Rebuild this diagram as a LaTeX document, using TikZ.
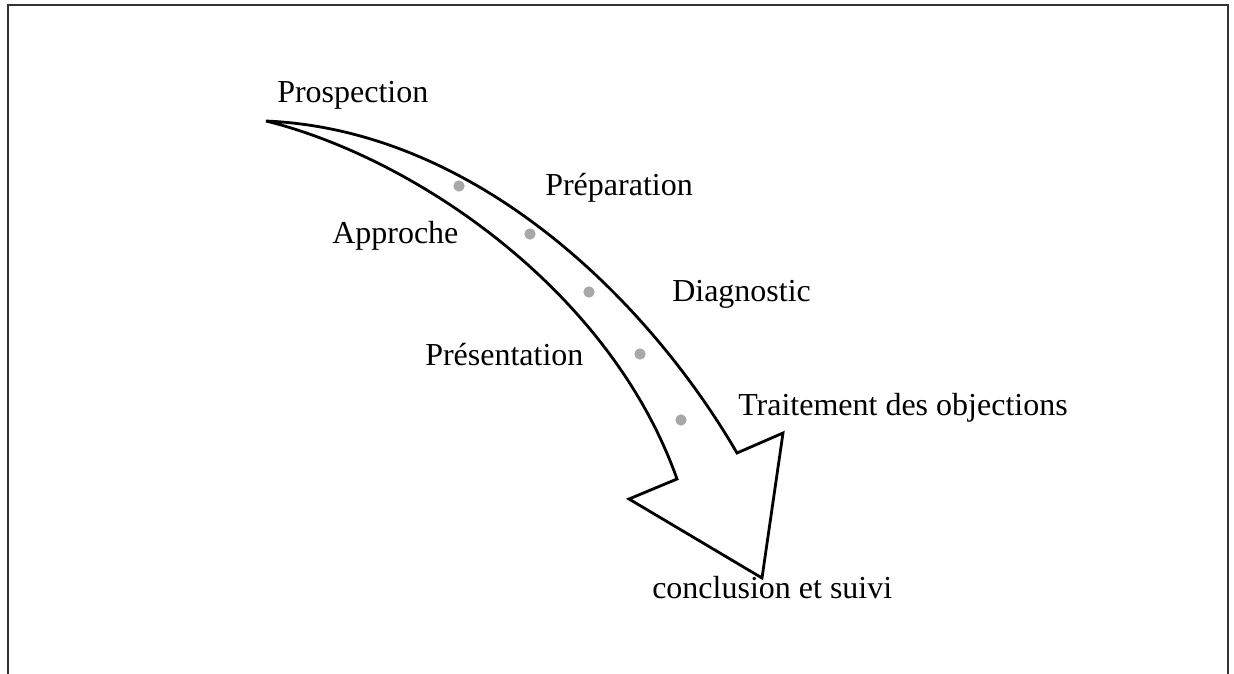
\documentclass[tikz,border=0pt]{standalone}
\usepackage{fontspec}
\setmainfont{Liberation Serif}
\usetikzlibrary{positioning}
\definecolor{frameLine}{HTML}{333333}
\definecolor{stepDot}{HTML}{A8A8A8}

\tikzset{
  stage/.style={anchor=base west,inner sep=0pt,font=\fontsize{24}{28}\selectfont},
  stagedot/.style={circle,fill=stepDot,inner sep=0pt,minimum size=8.5pt},
}

\begin{document}
\begin{tikzpicture}[x=0.75pt,y=-0.75pt]
    \path[use as bounding box] (0,0) rectangle (1234,674);
    % cadre ouvert en bas
    \draw[frameLine,line width=2.2pt] (8,674) -- (8,5) -- (1228,5) -- (1228,674);
    % la fleche courbe
    \coordinate (tail) at (266,121);
    \draw[line width=2.1pt,line join=miter,miter limit=4] (tail)
      .. controls (476,130) and (648,300) .. (737,453)
      -- (783,433) -- (762,578) -- (629,499) -- (677,479)
      .. controls (610,290) and (415,158) .. (tail) -- cycle;
    \foreach \x/\y/\n in {459/186/1,530/234/2,589/292/3,640/354/4,681/420/5}
      \node[stagedot] (dot\n) at (\x,\y) {};
    % etapes
    \node[stage] (prospection) at (277,103) {Prospection};
    \node[stage] (preparation) at (545,195) {Préparation};
    \node[stage] (approche) at (332,243) {Approche};
    \node[stage] (diagnostic) at (672,301) {Diagnostic};
    \node[stage] (presentation) at (425,365) {Présentation};
    \node[stage] (objections) at (738,415) {Traitement des objections};
    \node[stage] (conclusion) at (652,598) {conclusion et suivi};
\end{tikzpicture}
\end{document}
